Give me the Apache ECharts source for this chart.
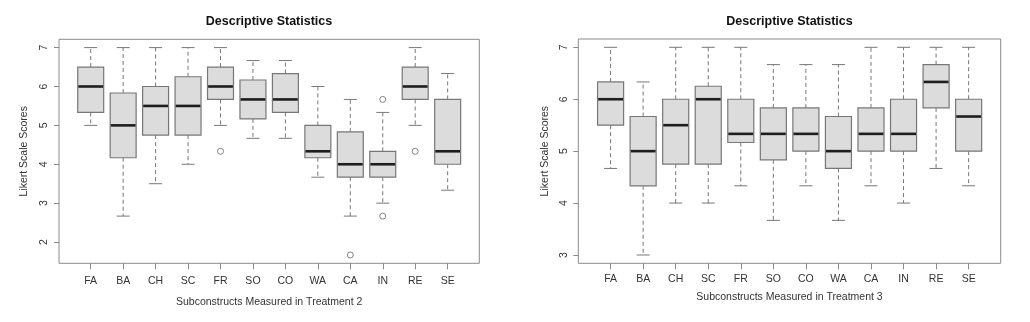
<!DOCTYPE html>
<html>
<head>
<meta charset="utf-8">
<script src="https://cdn.jsdelivr.net/npm/echarts@6/dist/echarts.min.js"></script>
<style>
html,body{margin:0;padding:0;background:#fff;}
#c{width:1030px;height:322px;}
</style>
</head>
<body>
<div id="c"></div>
<script>
// ---- data ----
var categories = ['FA','BA','CH','SC','FR','SO','CO','WA','CA','IN','RE','SE'];
var yTicksT2 = [2,3,4,5,6,7];
var yTicksT3 = [3,4,5,6,7];
// [lower whisker, Q1, median, Q3, upper whisker]
var statsT2 = [
  [5.000, 5.333, 6.000, 6.500, 7.000],
  [2.667, 4.167, 5.000, 5.833, 7.000],
  [3.500, 4.750, 5.500, 6.000, 7.000],
  [4.000, 4.750, 5.500, 6.250, 7.000],
  [5.000, 5.667, 6.000, 6.500, 7.000],
  [4.667, 5.167, 5.667, 6.167, 6.667],
  [4.667, 5.333, 5.667, 6.333, 6.667],
  [3.667, 4.167, 4.333, 5.000, 6.000],
  [2.667, 3.667, 4.000, 4.833, 5.667],
  [3.000, 3.667, 4.000, 4.333, 5.333],
  [5.000, 5.667, 6.000, 6.500, 7.000],
  [3.333, 4.000, 4.333, 5.667, 6.333]
];
// outliers: [category index (1-based), value]
var outliersT2 = [[5, 4.333], [9, 1.667], [10, 5.667], [10, 2.667], [11, 4.333]];
var statsT3 = [
  [4.667, 5.500, 6.000, 6.333, 7.000],
  [3.000, 4.333, 5.000, 5.667, 6.333],
  [4.000, 4.750, 5.500, 6.000, 7.000],
  [4.000, 4.750, 6.000, 6.250, 7.000],
  [4.333, 5.167, 5.333, 6.000, 7.000],
  [3.667, 4.833, 5.333, 5.833, 6.667],
  [4.333, 5.000, 5.333, 5.833, 6.667],
  [3.667, 4.667, 5.000, 5.667, 6.667],
  [4.333, 5.000, 5.333, 5.833, 7.000],
  [4.000, 5.000, 5.333, 6.000, 7.000],
  [4.667, 5.833, 6.333, 6.667, 7.000],
  [4.333, 5.000, 5.667, 6.000, 7.000]
];
var outliersT3 = [];
var titleText = 'Descriptive Statistics';
var yName = 'Likert Scale Scores';
var xNameT2 = 'Subconstructs Measured in Treatment 2';
var xNameT3 = 'Subconstructs Measured in Treatment 3';

// ---- chart ----
var FONT = '"Liberation Sans", Arial, Helvetica, sans-serif';
var TXT = '#333';
var BOXFILL = '#dcdcdc';
var LINE = '#777';

function toItems(stats){
  return stats.map(function(s, i){ return [i + 1].concat(s); });
}

function renderBox(params, api){
  var x = api.value(0);
  var lo = api.value(1), q1 = api.value(2), med = api.value(3), q3 = api.value(4), hi = api.value(5);
  var pLo = api.coord([x, lo]), pQ1 = api.coord([x, q1]), pMed = api.coord([x, med]);
  var pQ3 = api.coord([x, q3]), pHi = api.coord([x, hi]);
  var bw = api.size([0.8, 0])[0];
  var cw = api.size([0.4, 0])[0];
  var cx = pMed[0];
  var dash = {stroke: LINE, lineWidth: 1, lineDash: [4, 3]};
  var solid = {stroke: LINE, lineWidth: 1};
  return {
    type: 'group',
    children: [
      {type: 'line', shape: {x1: cx, y1: pQ3[1], x2: cx, y2: pHi[1]}, style: dash},
      {type: 'line', shape: {x1: cx, y1: pQ1[1], x2: cx, y2: pLo[1]}, style: dash},
      {type: 'line', shape: {x1: cx - cw/2, y1: pHi[1], x2: cx + cw/2, y2: pHi[1]}, style: solid},
      {type: 'line', shape: {x1: cx - cw/2, y1: pLo[1], x2: cx + cw/2, y2: pLo[1]}, style: solid},
      {type: 'rect', shape: {x: cx - bw/2, y: pQ3[1], width: bw, height: pQ1[1] - pQ3[1]},
        style: {fill: BOXFILL, stroke: LINE, lineWidth: 1.2}},
      {type: 'line', shape: {x1: cx - bw/2 + 0.6, y1: pMed[1], x2: cx + bw/2 - 0.6, y2: pMed[1]},
        style: {stroke: '#1e1e1e', lineWidth: 2.6}}
    ]
  };
}

function xAxisCfg(gi, min, max, name, gap, margin){
  return {
    type: 'value', gridIndex: gi, min: min, max: max,
    name: name, nameLocation: 'middle', nameGap: gap,
    nameTextStyle: {fontFamily: FONT, fontSize: 10.5, color: TXT},
    axisLine: {show: false},
    splitLine: {show: false},
    axisTick: {show: true, length: 6, inside: false, customValues: categories.map(function(c, i){ return i + 1; }),
      lineStyle: {color: '#888', width: 1}},
    axisLabel: {show: true, margin: margin, fontFamily: FONT, fontSize: 10.5, color: TXT,
      customValues: categories.map(function(c, i){ return i + 1; }),
      formatter: function(v){ return categories[Math.round(v) - 1] || ''; }}
  };
}
function yAxisCfg(gi, min, max, ticks, gap){
  return {
    type: 'value', gridIndex: gi, min: min, max: max,
    name: yName, nameLocation: 'middle', nameGap: gap, nameRotate: 90,
    nameTextStyle: {fontFamily: FONT, fontSize: 10.5, color: TXT},
    axisLine: {show: false},
    splitLine: {show: false},
    axisTick: {show: true, length: 5, customValues: ticks, lineStyle: {color: '#888', width: 1}},
    axisLabel: {show: true, rotate: 90, margin: 9, fontFamily: FONT, fontSize: 10.5, color: TXT,
      customValues: ticks, formatter: function(v){ return String(v); }}
  };
}

var chart = echarts.init(document.getElementById('c'), null, {renderer: 'canvas'});
chart.setOption({
  animation: false,
  backgroundColor: '#fff',
  title: [
    {text: titleText, left: 269, top: 15, textAlign: 'center', padding: 0,
      textStyle: {fontFamily: FONT, fontSize: 12.5, fontWeight: 'bold', color: '#111'}},
    {text: titleText, left: 789.5, top: 15, textAlign: 'center', padding: 0,
      textStyle: {fontFamily: FONT, fontSize: 12.5, fontWeight: 'bold', color: '#111'}}
  ],
  grid: [
    {left: 59, top: 39.3, width: 420.3, height: 224, show: true, borderColor: '#8a8a8a', borderWidth: 1, backgroundColor: 'transparent', containLabel: false},
    {left: 578.3, top: 39, width: 422.4, height: 224.3, show: true, borderColor: '#8a8a8a', borderWidth: 1, backgroundColor: 'transparent', containLabel: false}
  ],
  xAxis: [
    xAxisCfg(0, 0.023, 12.975, xNameT2, 33, 12),
    xAxisCfg(1, 0.008, 12.985, xNameT3, 28, 10)
  ],
  yAxis: [
    yAxisCfg(0, 1.4533, 7.2133, yTicksT2, 29),
    yAxisCfg(1, 2.84, 7.16, yTicksT3, 28)
  ],
  series: [
    {type: 'custom', xAxisIndex: 0, yAxisIndex: 0, renderItem: renderBox, data: toItems(statsT2),
      encode: {x: 0, y: [1, 2, 3, 4, 5]}, clip: false},
    {type: 'scatter', xAxisIndex: 0, yAxisIndex: 0, data: outliersT2, symbol: 'circle', symbolSize: 6,
      itemStyle: {color: '#fff', borderColor: '#666', borderWidth: 1}},
    {type: 'custom', xAxisIndex: 1, yAxisIndex: 1, renderItem: renderBox, data: toItems(statsT3),
      encode: {x: 0, y: [1, 2, 3, 4, 5]}, clip: false},
    {type: 'scatter', xAxisIndex: 1, yAxisIndex: 1, data: outliersT3, symbol: 'circle', symbolSize: 6,
      itemStyle: {color: '#fff', borderColor: '#666', borderWidth: 1}}
  ]
});
</script>
</body>
</html>
